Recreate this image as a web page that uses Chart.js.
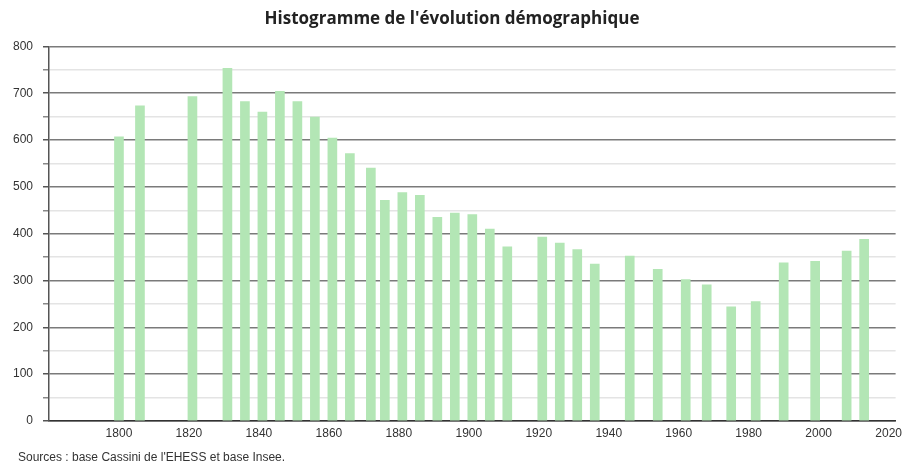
<!DOCTYPE html>
<html>
<head>
<meta charset="utf-8">
<script src="https://cdn.jsdelivr.net/npm/chart.js@4"></script>
<style>
  html, body { margin: 0; padding: 0; background: #fff; }
  #wrap { width: 907px; height: 465px; }
</style>
</head>
<body>
<div id="wrap"><canvas id="chart"></canvas></div>
<script>
// années de recensement
const aYears = [1800, 1806, 1821, 1831, 1836, 1841, 1846, 1851, 1856, 1861,
                1866, 1872, 1876, 1881, 1886, 1891, 1896, 1901, 1906, 1911,
                1921, 1926, 1931, 1936, 1946, 1954, 1962, 1968, 1975, 1982,
                1990, 1999, 2008, 2013];
// population
const aPopulation = [607, 673, 693, 753, 682, 660, 704, 682, 649, 604,
                     571, 540, 471, 488, 482, 435, 444, 441, 410, 372,
                     393, 380, 366, 335, 352, 324, 302, 291, 244, 255,
                     338, 341, 363, 388];
const aXTicks = [1800, 1820, 1840, 1860, 1880, 1900, 1920, 1940, 1960, 1980, 2000, 2020];
const aYTicks = [0, 100, 200, 300, 400, 500, 600, 700, 800];

const sTitle = "Histogramme de l'évolution démographique";
const sSource = "Sources : base Cassini de l'EHESS et base Insee.";

// texte des sources en bas à gauche
const oSourcePlugin = {
    id: "source",
    afterDraw(chart) {
        const ctx = chart.ctx;
        ctx.save();
        ctx.font = "12px 'Liberation Sans', Arial, sans-serif";
        ctx.fillStyle = "#333";
        ctx.textBaseline = "middle";
        ctx.textAlign = "left";
        ctx.fillText(sSource, 18, 458);
        ctx.restore();
    }
};

new Chart(document.getElementById("chart"), {
    type: "bar",
    data: {
        datasets: [{
            data: aYears.map((y, i) => ({ x: y, y: aPopulation[i] })),
            backgroundColor: "#b3e6b5",
            borderWidth: 0,
            barThickness: 9
        }]
    },
    plugins: [oSourcePlugin],
    options: {
        responsive: true,
        maintainAspectRatio: false,
        animation: false,
        layout: { padding: { left: 0, right: 3, top: 0, bottom: 24 } },
        plugins: {
            legend: { display: false },
            tooltip: { enabled: false },
            title: {
                display: true,
                text: sTitle,
                color: "#222",
                font: { family: "'Open Sans', sans-serif", size: 17, weight: "bold", lineHeight: 1.2 },
                padding: { top: 9, bottom: 17 }
            }
        },
        scales: {
            x: {
                type: "linear",
                min: 1780,
                max: 2022,
                offset: false,
                afterBuildTicks: (scale) => { scale.ticks = aXTicks.map(v => ({ value: v })); },
                afterFit: (scale) => { scale.height = 20; },
                grid: { display: false, drawTicks: false },
                border: { display: true, color: "#333", width: 1.5 },
                ticks: {
                    color: "#333",
                    font: { family: "'Liberation Sans', Arial, sans-serif", size: 12 },
                    padding: 5,
                    maxRotation: 0,
                    autoSkip: false,
                    callback: (v) => String(v)
                }
            },
            y: {
                min: 0,
                max: 800,
                afterBuildTicks: (scale) => {
                    const aAll = [];
                    for (let i = 0; i < aYTicks.length; i++) {
                        aAll.push({ value: aYTicks[i] });
                        if (i < aYTicks.length - 1) aAll.push({ value: (aYTicks[i] + aYTicks[i + 1]) / 2 });
                    }
                    scale.ticks = aAll;
                },
                afterFit: (scale) => { scale.width = 49; },
                border: { display: true, color: "#555", width: 1.5 },
                grid: {
                    color: (c) => (c.tick && c.tick.value % 100 === 0) ? "#7a7a7a" : "#e4e4e4",
                    lineWidth: 1.5,
                    tickLength: 6,
                    tickColor: (c) => (c.tick && c.tick.value % 100 === 0) ? "#555" : "#888"
                },
                ticks: {
                    color: "#333",
                    font: { family: "'Liberation Sans', Arial, sans-serif", size: 12 },
                    padding: 10,
                    autoSkip: false,
                    callback: (v) => (v % 100 === 0 ? String(v) : "")
                }
            }
        }
    }
});
</script>
</body>
</html>
